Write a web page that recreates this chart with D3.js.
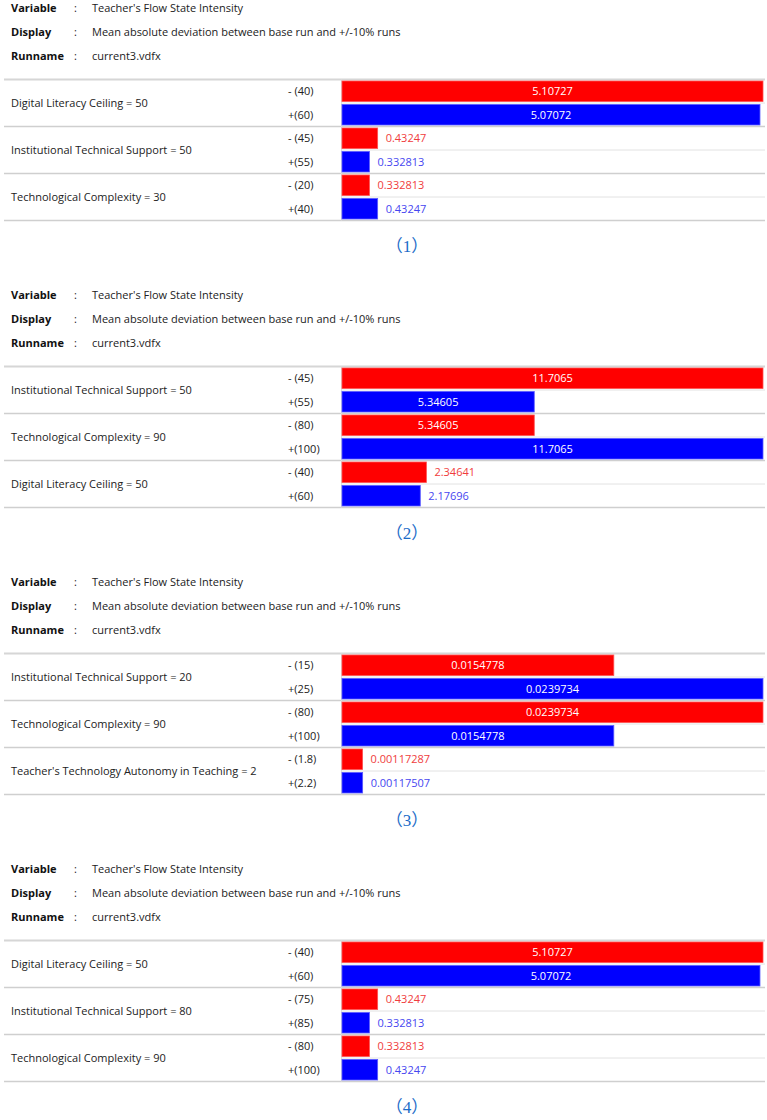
<!DOCTYPE html>
<html>
<head>
<meta charset="utf-8">
<title>Tornado sensitivity panels</title>
<style>
  html, body { margin: 0; padding: 0; background: #fff; }
  svg { display: block; font-family: "Open Sans", sans-serif; }
  .hdr-key { font-weight: bold; font-size: 11px; fill: #111; }
  .hdr-val { font-size: 11px; fill: #222; }
  .lbl { font-size: 11px; fill: #222; }
  .val { font-size: 11px; }
  .caption { font-family: "Liberation Serif", "Times New Roman", "Noto Sans CJK SC", serif; font-size: 17px; fill: #1c6cc8; }
</style>
</head>
<body>
<svg id="chart" width="767" height="1120"></svg>
<script src="https://d3js.org/d3.v7.min.js"></script>
<script>
// header
const headerKeys = ["Variable", "Display", "Runname"];
const headerVals = ["Teacher's Flow State Intensity",
                    "Mean absolute deviation between base run and +/-10% runs",
                    "current3.vdfx"];
const captions = ["（1）", "（2）", "（3）", "（4）"];

// one entry per panel
const variables = [
  ["Digital Literacy Ceiling = 50", "Institutional Technical Support = 50", "Technological Complexity = 30"],
  ["Institutional Technical Support = 50", "Technological Complexity = 90", "Digital Literacy Ceiling = 50"],
  ["Institutional Technical Support = 20", "Technological Complexity = 90", "Teacher's Technology Autonomy in Teaching = 2"],
  ["Digital Literacy Ceiling = 50", "Institutional Technical Support = 80", "Technological Complexity = 90"]
];
const lowLabels = [
  ["- (40)", "- (45)", "- (20)"],
  ["- (45)", "- (80)", "- (40)"],
  ["- (15)", "- (80)", "- (1.8)"],
  ["- (40)", "- (75)", "- (80)"]
];
const highLabels = [
  ["+(60)", "+(55)", "+(40)"],
  ["+(55)", "+(100)", "+(60)"],
  ["+(25)", "+(100)", "+(2.2)"],
  ["+(60)", "+(85)", "+(100)"]
];
const lowValues = [
  [5.10727, 0.43247, 0.332813],
  [11.7065, 5.34605, 2.34641],
  [0.0154778, 0.0239734, 0.00117287],
  [5.10727, 0.43247, 0.332813]
];
const highValues = [
  [5.07072, 0.332813, 0.43247],
  [5.34605, 11.7065, 2.17696],
  [0.0239734, 0.0154778, 0.00117507],
  [5.07072, 0.332813, 0.43247]
];

const svg = d3.select("#chart");
const panelStep = 287;
const tableTop = 79.5;
const groupH = 47;
const barX = 342, barMaxW = 421;
const lineLeft = 4, lineRight = 765;

variables.forEach((vars, p) => {
  const g = svg.append("g").attr("transform", `translate(0, ${p * panelStep})`);

  // header block
  headerKeys.forEach((k, i) => {
    const y = 12 + i * 24;
    g.append("text").attr("class", "hdr-key").attr("x", 11).attr("y", y).text(k);
    g.append("text").attr("class", "hdr-val").attr("x", 74).attr("y", y).text(":");
    g.append("text").attr("class", "hdr-val").attr("x", 92).attr("y", y).text(headerVals[i]);
  });

  const rows = vars.map((v, i) => ({
    name: v, lo: lowLabels[p][i], hi: highLabels[p][i],
    loV: lowValues[p][i], hiV: highValues[p][i]
  }));

  const y = d3.scaleBand()
    .domain(d3.range(rows.length))
    .range([tableTop, tableTop + groupH * rows.length]);
  const sub = d3.scaleBand().domain([0, 1]).range([0, groupH]);
  const x = d3.scaleLinear()
    .domain([0, d3.max(rows, d => Math.max(d.loV, d.hiV))])
    .range([0, barMaxW]);

  // table lines
  g.append("line")
    .attr("x1", lineLeft).attr("x2", lineRight)
    .attr("y1", tableTop).attr("y2", tableTop)
    .attr("stroke", "#d6d6d6").attr("stroke-width", 2);
  rows.forEach((d, i) => {
    const yb = y(i) + groupH;
    g.append("line")
      .attr("x1", lineLeft).attr("x2", lineRight)
      .attr("y1", yb).attr("y2", yb)
      .attr("stroke", "#cfcfcf").attr("stroke-width", 1.5);
    g.append("line")
      .attr("x1", barX).attr("x2", lineRight)
      .attr("y1", y(i) + sub(1)).attr("y2", y(i) + sub(1))
      .attr("stroke", "#e2e2e2").attr("stroke-width", 1);
  });
  g.append("line")
    .attr("x1", barX - 0.5).attr("x2", barX - 0.5)
    .attr("y1", tableTop).attr("y2", tableTop + groupH * rows.length)
    .attr("stroke", "#dcdcdc").attr("stroke-width", 1);

  const row = g.selectAll("g.row").data(rows).enter()
    .append("g").attr("class", "row")
    .attr("transform", (d, i) => `translate(0, ${y(i)})`);

  row.append("text").attr("class", "lbl")
    .attr("x", 11).attr("y", groupH / 2).attr("dy", "0.35em")
    .text(d => d.name);

  const bars = [
    { key: "lo", v: "loV", s: 0, fill: "#ff0000", stroke: "#ff5050", out: "#f03c3c" },
    { key: "hi", v: "hiV", s: 1, fill: "#0000ff", stroke: "#5a5aff", out: "#4646f0" }
  ];
  bars.forEach(b => {
    const cy = sub(b.s) + sub.bandwidth() / 2;
    row.append("text").attr("class", "lbl")
      .attr("x", 288).attr("y", cy).attr("dy", "0.35em")
      .text(d => d[b.key]);
    row.append("rect")
      .attr("x", barX).attr("y", sub(b.s) + 1.5)
      .attr("width", d => x(d[b.v])).attr("height", sub.bandwidth() - 3)
      .attr("fill", b.fill).attr("stroke", b.stroke).attr("stroke-width", 0.8);
    row.append("text").attr("class", "val")
      .attr("y", cy).attr("dy", "0.35em")
      .attr("x", d => x(d[b.v]) > 90 ? barX + x(d[b.v]) / 2 : barX + x(d[b.v]) + 8)
      .attr("text-anchor", d => x(d[b.v]) > 90 ? "middle" : "start")
      .attr("fill", d => x(d[b.v]) > 90 ? "#fff" : b.out)
      .text(d => d[b.v]);
  });

  g.append("text").attr("class", "caption")
    .attr("x", 407).attr("y", 246).attr("dy", "0.35em")
    .attr("text-anchor", "middle")
    .text(captions[p]);
});
</script>
</body>
</html>
